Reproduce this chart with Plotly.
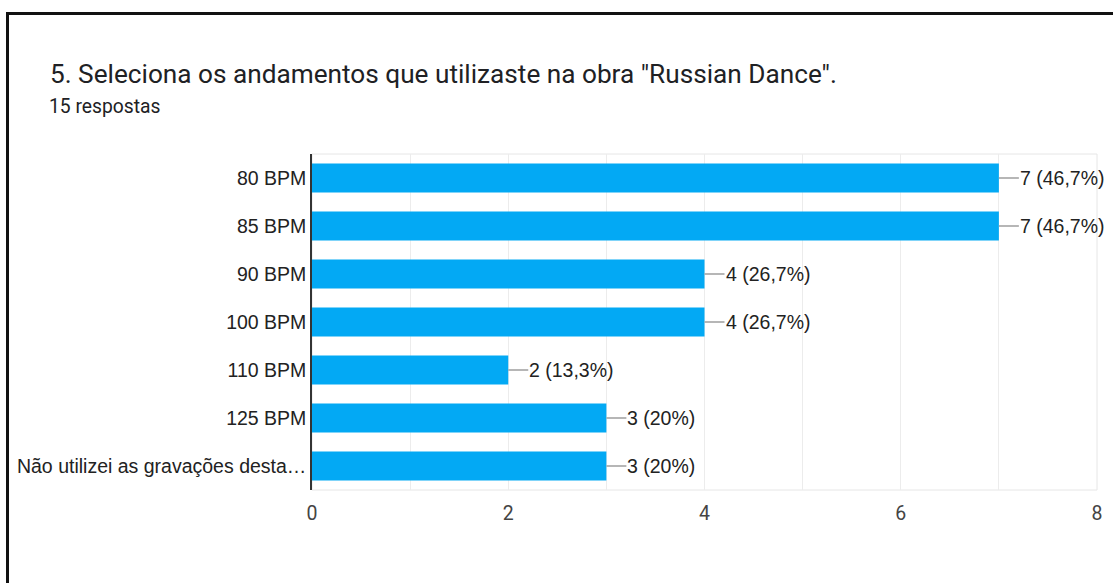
import plotly.graph_objects as go

categories = ["80 BPM", "85 BPM", "90 BPM", "100 BPM", "110 BPM", "125 BPM",
              "Não utilizei as gravações desta…"]
counts = [7, 7, 4, 4, 2, 3, 3]
value_labels = ["7 (46,7%)", "7 (46,7%)", "4 (26,7%)", "4 (26,7%)",
                "2 (13,3%)", "3 (20%)", "3 (20%)"]
x_ticks = [0, 2, 4, 6, 8]

title_text = '5. Seleciona os andamentos que utilizaste na obra "Russian Dance".'
subtitle_text = "15 respostas"

W, H = 1113, 583
ML, MR, MT, MB = 312, 16, 154, 93
PW, PH = W - ML - MR, H - MT - MB

def px_x(p):
    return (p - ML) / PW

def px_y(p):
    return (H - MB - p) / PH

fig = go.Figure()
fig.add_trace(go.Bar(
    x=counts, y=categories, orientation="h",
    marker=dict(color="#03A9F4", line=dict(width=0)),
    hoverinfo="skip",
))

annotations = []
for c, v, lab in zip(categories, counts, value_labels):
    annotations.append(dict(
        x=v, y=c, xref="x", yref="y", text=lab, showarrow=True,
        arrowhead=0, arrowwidth=1.3, arrowcolor="#9e9e9e",
        ax=20, ay=0, xanchor="left", yanchor="middle", standoff=0,
        borderpad=0,
        font=dict(family="Liberation Sans, Arial, sans-serif", size=19.5, color="#222222"),
    ))

annotations.append(dict(
    x=px_x(48), y=px_y(74), xref="paper", yref="paper", text=title_text,
    showarrow=False, xanchor="left", yanchor="middle",
    font=dict(family="Roboto, sans-serif", size=26.2, color="#202124"),
))
annotations.append(dict(
    x=px_x(47), y=px_y(106), xref="paper", yref="paper", text=subtitle_text,
    showarrow=False, xanchor="left", yanchor="middle",
    font=dict(family="Roboto, sans-serif", size=19.3, color="#202124"),
))

shapes = [
    # plot area light border
    dict(type="rect", xref="paper", yref="paper", x0=0, x1=1, y0=0, y1=1,
         line=dict(color="#e6e6e6", width=1), layer="below"),
    # outer black frame (left and top)
    dict(type="line", xref="paper", yref="paper",
         x0=px_x(7.5), x1=px_x(7.5), y0=px_y(600), y1=px_y(12),
         line=dict(color="#111111", width=3)),
    dict(type="line", xref="paper", yref="paper",
         x0=px_x(6), x1=px_x(1130), y0=px_y(13.5), y1=px_y(13.5),
         line=dict(color="#111111", width=3)),
]

fig.update_layout(
    width=W, height=H,
    margin=dict(l=ML, r=MR, t=MT, b=MB),
    paper_bgcolor="white", plot_bgcolor="white",
    showlegend=False, bargap=0.4,
    annotations=annotations, shapes=shapes,
    xaxis=dict(
        range=[0, 8], tickvals=x_ticks, showgrid=True, gridcolor="#ececec",
        gridwidth=1, zeroline=False, showline=False, ticks="",
        ticklabelstandoff=9,
        minor=dict(dtick=1, showgrid=True, gridcolor="#ececec", gridwidth=1),
        tickfont=dict(family="Roboto, sans-serif", size=19.5, color="#444444"),
        fixedrange=True,
    ),
    yaxis=dict(
        autorange="reversed", showgrid=False, zeroline=False,
        showline=True, linecolor="#333333", linewidth=1.5, ticks="",
        ticklabelstandoff=0,
        tickfont=dict(family="Liberation Sans, Arial, sans-serif", size=19.5, color="#222222"),
        fixedrange=True,
    ),
)

fig.write_html(
    "out.html",
    config={"displayModeBar": False},
    post_script="document.body.style.margin='0';document.body.style.overflow='hidden';",
)
